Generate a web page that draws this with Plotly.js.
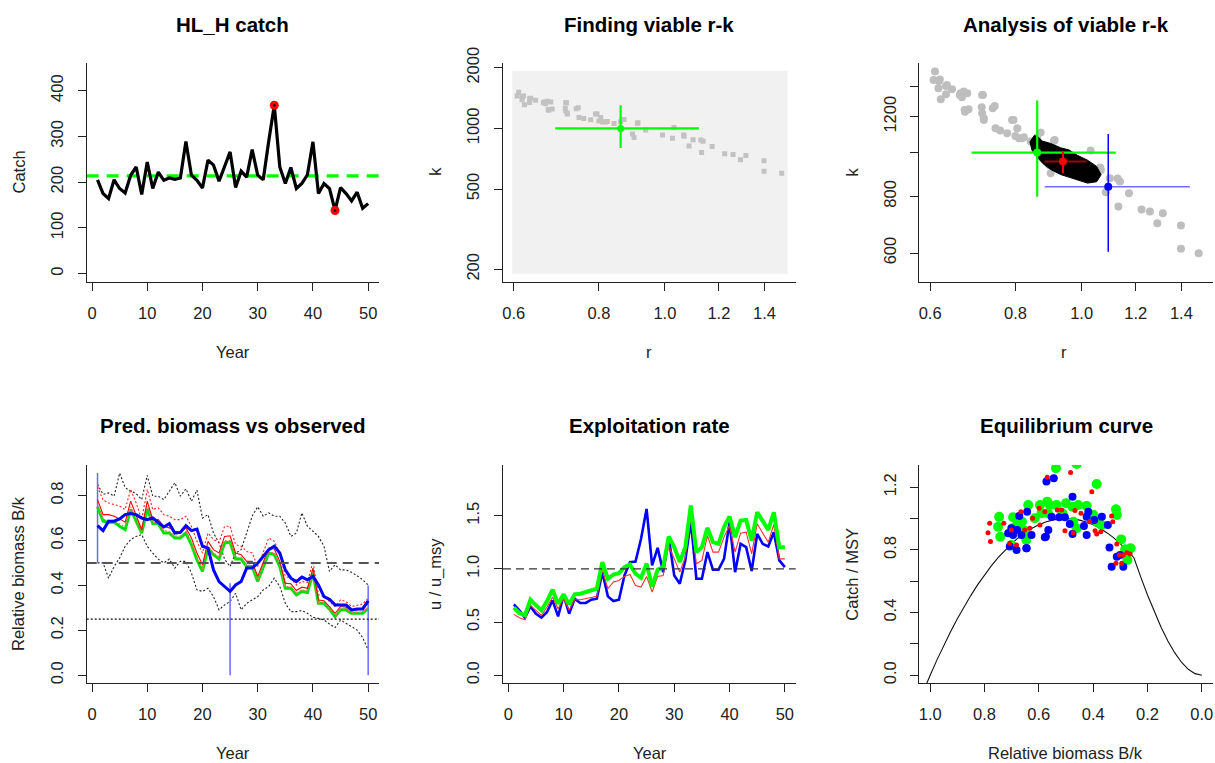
<!DOCTYPE html>
<html><head><meta charset="utf-8">
<script src="https://cdn.plot.ly/plotly-3.0.1.min.js"></script>
<style>html,body{margin:0;padding:0;background:#fff}#chart{width:1215px;height:763px}</style>
</head><body><div id="chart"></div>
<script>
// ---------- DATA ----------
const years = [1,2,3,4,5,6,7,8,9,10,11,12,13,14,15,16,17,18,19,20,21,22,23,24,25,26,27,28,29,30,31,32,33,34,35,36,37,38,39,40,41,42,43,44,45,46,47,48,49,50];

// Panel 1: catch
const catchVals = [205,175,164,205,186,176,215,233,173,244,186,222,204,209,206,209,289,215,204,187,248,237,202,233,266,188,224,211,271,215,205,290,368,233,197,232,186,197,216,288,175,197,186,138,188,175,159,178,143,153];
const meanCatch = 213.5;
const extremeYears = [33,44];
const extremeCatch = [368,138];

// Panel 2/3: prior r-k space and viable r-k pairs
const priorR = [0.597,1.514,1.514,0.597,0.597];
const priorK = [190,190,1932,1932,190];
const viableR = [0.610,0.607,0.618,0.617,0.622,0.633,0.633,0.646,0.663,0.672,0.680,0.674,0.683,0.715,0.714,0.719,0.715,0.746,0.741,0.748,0.760,0.778,0.791,0.805,0.800,0.810,0.823,0.842,0.620,0.635,0.665,0.668,0.717,0.675,0.719,0.795,0.818,0.871,0.913,0.901,1.031,1.067,1.100,1.138,1.085,1.173,1.132,1.224,1.259,1.315,1.291,1.398,1.398,1.484,0.861,0.896,0.911,0.937,0.992,1.026,1.065,1.129];
const viableK = [1509,1446,1439,1386,1311,1345,1403,1379,1340,1363,1351,1242,1246,1340,1259,1190,1221,1267,1252,1131,1118,1103,1180,1131,1088,1075,1081,1057,1449,1410,1351,1324,1340,1231,1180,1180,1075,1107,1066,900,1010,915,877,863,817,813,760,749,741,734,698,690,613,599,1079,938,1060,982,927,893,927,876];
const bestCloudR = [0.840,0.852,0.862,0.876,0.901,0.932,0.959,0.986,1.020,1.052,1.068,1.052,1.020,0.975,0.932,0.901,0.878,0.860,0.846,0.840];
const bestCloudK = [1055,1090,1085,1060,1047,1024,1013,986,962,932,893,862,856,875,894,917,945,978,1012,1055];
// estimates: [centre, low, high]
const estGreenR = [0.861,0.690,1.122];
const estGreenK = [1000,799,1302];
const estRedR = [0.939,0.883,1.017];
const estRedK = [955,900,1008];
const estBlueR = [1.094,0.883,1.441];
const estBlueK = [840,604,1099];

// Panel 4: relative biomass
const bObs = [0.666,0.644,0.686,0.686,0.696,0.715,0.720,0.715,0.700,0.693,0.700,0.681,0.660,0.675,0.633,0.636,0.666,0.644,0.651,0.574,0.566,0.469,0.417,0.395,0.373,0.402,0.417,0.477,0.477,0.499,0.529,0.559,0.574,0.544,0.469,0.432,0.417,0.437,0.425,0.440,0.402,0.350,0.338,0.313,0.313,0.313,0.291,0.295,0.295,0.331];
const bObsBarYears = [1,25,50];
const bObsBarLow = [0.50,0.0,0.0];
const bObsBarHigh = [0.90,0.41,0.40];
const bGreen = [0.750,0.686,0.681,0.681,0.663,0.648,0.738,0.686,0.633,0.741,0.675,0.675,0.633,0.633,0.611,0.611,0.633,0.581,0.514,0.462,0.566,0.537,0.517,0.589,0.592,0.517,0.517,0.484,0.484,0.417,0.484,0.544,0.537,0.484,0.387,0.387,0.358,0.373,0.368,0.455,0.320,0.320,0.294,0.261,0.291,0.291,0.276,0.276,0.276,0.298];
const bRed = [0.782,0.715,0.715,0.708,0.696,0.681,0.775,0.708,0.648,0.775,0.693,0.693,0.663,0.656,0.641,0.636,0.656,0.611,0.544,0.492,0.596,0.559,0.544,0.618,0.621,0.544,0.537,0.507,0.507,0.440,0.507,0.566,0.562,0.507,0.410,0.407,0.377,0.392,0.387,0.477,0.335,0.332,0.306,0.276,0.306,0.303,0.288,0.291,0.294,0.320];
const bRedHigh = [0.839,0.780,0.767,0.760,0.753,0.738,0.827,0.767,0.693,0.827,0.738,0.745,0.715,0.708,0.693,0.693,0.708,0.663,0.596,0.544,0.633,0.604,0.592,0.663,0.663,0.581,0.574,0.551,0.544,0.484,0.551,0.611,0.596,0.544,0.440,0.432,0.402,0.417,0.413,0.507,0.358,0.350,0.328,0.306,0.335,0.328,0.306,0.313,0.317,0.343];
const bRedLow = [0.760,0.695,0.690,0.690,0.675,0.660,0.750,0.695,0.640,0.755,0.680,0.680,0.645,0.640,0.620,0.620,0.640,0.590,0.525,0.470,0.575,0.545,0.525,0.600,0.600,0.525,0.525,0.490,0.490,0.425,0.490,0.550,0.545,0.490,0.395,0.395,0.365,0.380,0.375,0.462,0.325,0.325,0.298,0.266,0.296,0.296,0.281,0.281,0.281,0.303];
const bObsHigh = [0.850,0.805,0.812,0.797,0.900,0.835,0.820,0.808,0.782,0.890,0.797,0.797,0.782,0.820,0.857,0.797,0.830,0.775,0.824,0.700,0.715,0.633,0.589,0.517,0.484,0.544,0.559,0.633,0.708,0.750,0.708,0.723,0.708,0.708,0.678,0.618,0.633,0.723,0.663,0.641,0.618,0.574,0.462,0.492,0.469,0.469,0.458,0.443,0.425,0.402];
const bObsLow = [0.500,0.500,0.432,0.484,0.522,0.574,0.604,0.618,0.626,0.574,0.544,0.517,0.500,0.517,0.477,0.507,0.507,0.455,0.380,0.373,0.387,0.350,0.291,0.313,0.328,0.365,0.291,0.320,0.335,0.350,0.380,0.395,0.432,0.395,0.320,0.283,0.283,0.288,0.276,0.258,0.253,0.246,0.228,0.212,0.246,0.231,0.219,0.201,0.168,0.112];
const bmsyLevel = 0.5;
const blimLevel = 0.25;

// Panel 5: exploitation rate
const uBlue = [0.666,0.610,0.541,0.647,0.578,0.541,0.594,0.704,0.553,0.750,0.578,0.719,0.679,0.679,0.710,0.719,0.969,0.741,0.697,0.710,0.938,1.063,1.069,1.282,1.563,1.032,1.198,0.969,1.298,0.938,0.860,1.079,1.454,0.907,0.907,1.157,0.991,0.991,1.094,1.438,0.969,1.235,1.204,0.979,1.329,1.235,1.210,1.345,1.079,1.016];
const uGreen = [0.635,0.585,0.563,0.710,0.657,0.610,0.697,0.804,0.672,0.760,0.666,0.760,0.766,0.782,0.797,0.813,1.063,0.907,0.947,0.960,1.016,1.041,0.954,0.916,1.048,0.835,0.991,1.016,1.304,1.204,1.063,1.204,1.595,1.157,1.204,1.385,1.251,1.235,1.392,1.492,1.298,1.454,1.460,1.266,1.532,1.448,1.366,1.532,1.204,1.204];
const uRed = [0.572,0.541,0.522,0.657,0.610,0.563,0.641,0.735,0.625,0.719,0.610,0.710,0.710,0.719,0.729,0.741,0.985,0.813,0.876,0.891,0.929,0.947,0.844,0.829,0.929,0.782,0.929,0.938,1.220,1.094,0.969,1.110,1.485,1.048,1.079,1.313,1.157,1.157,1.298,1.407,1.157,1.335,1.345,1.141,1.423,1.335,1.251,1.417,1.094,1.094];
const uMsyLevel = 1.0;

// Panel 6: equilibrium curve and observations
const eqB = [0,0.025,0.05,0.075,0.1,0.125,0.15,0.175,0.2,0.225,0.25,0.275,0.3,0.325,0.35,0.375,0.4,0.425,0.45,0.475,0.5,0.525,0.55,0.575,0.6,0.625,0.65,0.675,0.7,0.725,0.75,0.775,0.8,0.825,0.85,0.875,0.9,0.925,0.95,0.975,1.0,1.025];
const eqC = [0,0.010,0.038,0.083,0.144,0.219,0.306,0.404,0.512,0.628,0.750,0.798,0.840,0.878,0.910,0.938,0.960,0.978,0.990,0.998,1.000,0.998,0.990,0.978,0.960,0.938,0.910,0.878,0.840,0.798,0.750,0.698,0.640,0.578,0.510,0.438,0.360,0.278,0.190,0.098,0,-0.103];
const eqGreenB = [0.537,0.461,0.387,0.746,0.750,0.742,0.695,0.639,0.697,0.680,0.652,0.646,0.596,0.569,0.559,0.590,0.535,0.500,0.513,0.476,0.455,0.424,0.473,0.461,0.399,0.387,0.369,0.316,0.313,0.297,0.282,0.262,0.274,0.662,0.615,0.566,0.701];
const eqGreenC = [1.321,1.349,1.221,1.012,0.948,0.884,1.008,1.087,0.938,0.959,0.923,0.863,1.087,1.108,1.087,1.034,1.087,1.098,1.034,1.076,1.087,1.081,0.980,0.938,1.023,0.980,0.959,1.059,1.023,0.867,0.804,0.810,0.735,0.980,1.002,1.034,0.831];
const eqBlueB = [0.572,0.545,0.476,0.713,0.707,0.682,0.645,0.672,0.643,0.627,0.574,0.565,0.525,0.504,0.486,0.476,0.434,0.424,0.396,0.368,0.346,0.340,0.332,0.313,0.289,0.301,0.701,0.695,0.680,0.664,0.424,0.418,0.553,0.578,0.646];
const eqBlueC = [1.236,1.257,1.140,0.906,0.821,0.799,0.810,1.017,1.044,0.895,0.884,0.927,1.008,1.008,0.965,0.902,0.953,0.895,0.991,1.012,0.959,0.816,0.693,0.757,0.693,0.767,0.938,0.895,0.927,0.895,1.012,1.044,1.012,0.880,0.810];
const eqRedB = [0.781,0.787,0.778,0.729,0.707,0.701,0.682,0.666,0.652,0.633,0.623,0.596,0.599,0.569,0.578,0.532,0.516,0.504,0.483,0.473,0.467,0.445,0.405,0.414,0.393,0.387,0.372,0.332,0.328,0.313,0.316,0.303,0.295,0.289,0.276,0.264];
const eqRedC = [0.970,0.910,0.853,0.970,0.842,0.927,0.831,1.044,0.927,0.938,1.002,0.959,1.066,1.264,1.044,1.055,1.055,0.923,1.294,0.910,1.051,1.034,1.172,0.980,0.923,0.902,0.916,1.017,0.980,0.838,0.714,0.767,0.714,0.767,0.782,0.774];

// ---------- STYLE / LAYOUT ----------
const FONT = 'Liberation Sans, Arial, Helvetica, sans-serif';
const W = 1215, H = 763;
const px = v => v / W, py = v => 1 - v / H;
const colX = [[86.7,379],[503,795.7],[919.3,1212.7]];
const rowY = [[63.3,281.7],[465,683.3]];

function axisBase(extra){
  return Object.assign({
    showgrid:false, zeroline:false, showline:true, linecolor:'#222', linewidth:1,
    ticks:'outside', ticklen:8, tickwidth:1, tickcolor:'#222',
    tickfont:{family:FONT,size:16.5,color:'#222'}, ticklabelstandoff:8,
    fixedrange:true
  }, extra);
}
function xAx(col,row,anchor,extra){
  return axisBase(Object.assign({domain:[px(colX[col][0]),px(colX[col][1])],anchor:anchor}, extra));
}
function yAx(col,row,anchor,extra){
  return axisBase(Object.assign({domain:[py(rowY[row][1]),py(rowY[row][0])],anchor:anchor,tickangle:-90}, extra));
}

const layout = {
  width:W, height:H, margin:{l:0,r:0,t:0,b:0}, showlegend:false,
  paper_bgcolor:'#fff', plot_bgcolor:'#fff',
  font:{family:FONT,color:'#222'},
  xaxis: xAx(0,0,'y',{range:[-0.96,51.96],tickvals:[0,10,20,30,40,50]}),
  yaxis: yAx(0,0,'x',{range:[-17.7,459.7],tickvals:[0,100,200,300,400]}),
  xaxis2: xAx(1,0,'y2',{type:'log',range:[-0.2377,0.192],tickvals:[0.6,0.8,1.0,1.2,1.4],ticktext:['0.6','0.8','1.0','1.2','1.4']}),
  yaxis2: yAx(1,0,'x2',{type:'log',range:[2.2395,3.3228],tickvals:[200,500,1000,2000],ticktext:['200','500','1000','2000']}),
  xaxis3: xAx(2,0,'y3',{type:'log',range:[-0.2377,0.192],tickvals:[0.6,0.8,1.0,1.2,1.4],ticktext:['0.6','0.8','1.0','1.2','1.4']}),
  yaxis3: yAx(2,0,'x3',{type:'log',range:[2.7148,3.197],tickvals:[600,800,1000,1200,1400],ticktext:['600','800','','1200','']}),
  xaxis4: xAx(0,1,'y4',{range:[-0.96,51.96],tickvals:[0,10,20,30,40,50]}),
  yaxis4: yAx(0,1,'x4',{range:[-0.036,0.936],tickvals:[0,0.2,0.4,0.6,0.8],tickformat:'.1f'}),
  xaxis5: xAx(1,1,'y5',{range:[-0.96,51.96],tickvals:[0,10,20,30,40,50]}),
  yaxis5: yAx(1,1,'x5',{range:[-0.076,1.976],tickvals:[0,0.5,1.0,1.5],tickformat:'.1f'}),
  xaxis6: xAx(2,1,'y6',{range:[1.04,-0.04],tickvals:[1.0,0.8,0.6,0.4,0.2,0.0],tickformat:'.1f'}),
  yaxis6: yAx(2,1,'x6',{range:[-0.0516,1.342],tickvals:[0,0.2,0.4,0.6,0.8,1.0,1.2],ticktext:['0.0','','0.4','','0.8','','1.2']}),
  shapes:[
    {type:'line',xref:'x domain',yref:'y',x0:0,x1:1,y0:meanCatch,y1:meanCatch,line:{color:'#00FF00',width:3.2,dash:'12px,8px'},layer:'below'},
    {type:'line',xref:'x4 domain',yref:'y4',x0:0,x1:1,y0:bmsyLevel,y1:bmsyLevel,line:{color:'#555',width:2,dash:'10px,6px'}},
    {type:'line',xref:'x4 domain',yref:'y4',x0:0,x1:1,y0:blimLevel,y1:blimLevel,line:{color:'#111',width:1.3,dash:'2px,2px'}},
    {type:'line',xref:'x5 domain',yref:'y5',x0:0,x1:1,y0:uMsyLevel,y1:uMsyLevel,line:{color:'#333',width:1.3,dash:'8px,5px'}}
  ],
  annotations:[]
};

function ann(text,x,y,opts){
  layout.annotations.push(Object.assign({text:text,x:px(x),y:py(y),xref:'paper',yref:'paper',showarrow:false,
    xanchor:'center',yanchor:'middle',font:{family:FONT,size:16.5,color:'#222'}},opts||{}));
}
const tFont = {family:FONT,size:20.5,color:'#000'};
ann('<b>HL_H catch</b>',232.8,24,{font:tFont});
ann('<b>Finding viable r-k</b>',649,24,{font:tFont});
ann('<b>Analysis of viable r-k</b>',1066,24,{font:tFont});
ann('<b>Pred. biomass vs observed</b>',232.8,426,{font:tFont});
ann('<b>Exploitation rate</b>',649,426,{font:tFont});
ann('<b>Equilibrium curve</b>',1066,426,{font:tFont});
ann('Year',232.8,351.7); ann('r',649,351.7); ann('r',1064,351.7);
ann('Year',232.8,753.4); ann('Year',650,753.4); ann('Relative biomass B/k',1065,753.4);
ann('Catch',18,172.5,{textangle:-90}); ann('k',435,171.7,{textangle:-90}); ann('k',851.7,171.7,{textangle:-90});
ann('Relative biomass B/k',18,574,{textangle:-90}); ann('u / u_msy',435,574,{textangle:-90}); ann('Catch / MSY',851.7,574,{textangle:-90});

// ---------- TRACES ----------
const traces = [];
function line(x,y,xa,ya,color,width,dash){
  traces.push({type:'scatter',mode:'lines',x:x,y:y,xaxis:xa,yaxis:ya,line:{color:color,width:width,dash:dash||'solid'},hoverinfo:'skip'});
}
function pts(x,y,xa,ya,color,size,symbol){
  traces.push({type:'scatter',mode:'markers',x:x,y:y,xaxis:xa,yaxis:ya,marker:{color:color,size:size,symbol:symbol||'circle',line:{width:0}},hoverinfo:'skip'});
}
function cross(rArr,kArr,xa,ya,hColor,vColor,width,ptColor,ptSize){
  line([rArr[1],rArr[2]],[kArr[0],kArr[0]],xa,ya,hColor,width);
  line([rArr[0],rArr[0]],[kArr[1],kArr[2]],xa,ya,vColor,width);
  pts([rArr[0]],[kArr[0]],xa,ya,ptColor,ptSize);
}

// Panel 1
line(years,catchVals,'x','y','#000',3.2);
pts(extremeYears,extremeCatch,'x','y','#FF0000',9);
pts(extremeYears,extremeCatch,'x','y','#000',2.5);

// Panel 2
traces.push({type:'scatter',mode:'lines',x:priorR,y:priorK,xaxis:'x2',yaxis:'y2',fill:'toself',fillcolor:'#F1F1F1',line:{width:0,color:'rgba(0,0,0,0)'},hoverinfo:'skip'});
pts(viableR,viableK,'x2','y2','#C2C2C2',5,'square');
cross(estGreenR,estGreenK,'x2','y2','#00FF00','#00FF00',2.2,'#00FF00',7);

// Panel 3
pts(viableR,viableK,'x3','y3','#BEBEBE',8);
traces.push({type:'scatter',mode:'lines',x:bestCloudR,y:bestCloudK,xaxis:'x3',yaxis:'y3',fill:'toself',fillcolor:'#000',line:{width:1,color:'#000'},hoverinfo:'skip'});
cross(estGreenR,estGreenK,'x3','y3','#00FF00','#00FF00',2.2,'#00FF00',8);
cross(estRedR,estRedK,'x3','y3','#A00000','#FF0000',2,'#FF0000',8);
cross(estBlueR,estBlueK,'x3','y3','#7070FF','#0000FF',1.5,'#0000FF',8);

// Panel 4
line(years,bObsHigh,'x4','y4','#222',1.1,'2px,2px');
line(years,bObsLow,'x4','y4','#222',1.1,'2px,2px');
for(let i=0;i<bObsBarYears.length;i++){
  line([bObsBarYears[i],bObsBarYears[i]],[bObsBarLow[i],bObsBarHigh[i]],'x4','y4','#6A6AFF',1.5);
}
line(years,bRedHigh,'x4','y4','#FF2020',1.1,'2px,2px');
line(years,bGreen,'x4','y4','#00E000',3);
line(years,bRedLow,'x4','y4','#FF7070',1.1,'2px,2px');
line(years,bRed,'x4','y4','#FF0000',1.1);
line(years,bObs,'x4','y4','#0000FF',3);

// Panel 5
line(years,uBlue,'x5','y5','#0000FF',2.6);
line(years,uRed,'x5','y5','#FF3030',1.1);
line(years,uGreen,'x5','y5','#00FF00',4);

// Panel 6
line(eqB,eqC,'x6','y6','#111',1.1);
pts(eqGreenB,eqGreenC,'x6','y6','#00FF00',10);
pts(eqBlueB,eqBlueC,'x6','y6','#0000FF',8);
pts(eqRedB,eqRedC,'x6','y6','#FF0000',5);

Plotly.newPlot('chart',traces,layout,{staticPlot:true,displayModeBar:false});
</script></body></html>
